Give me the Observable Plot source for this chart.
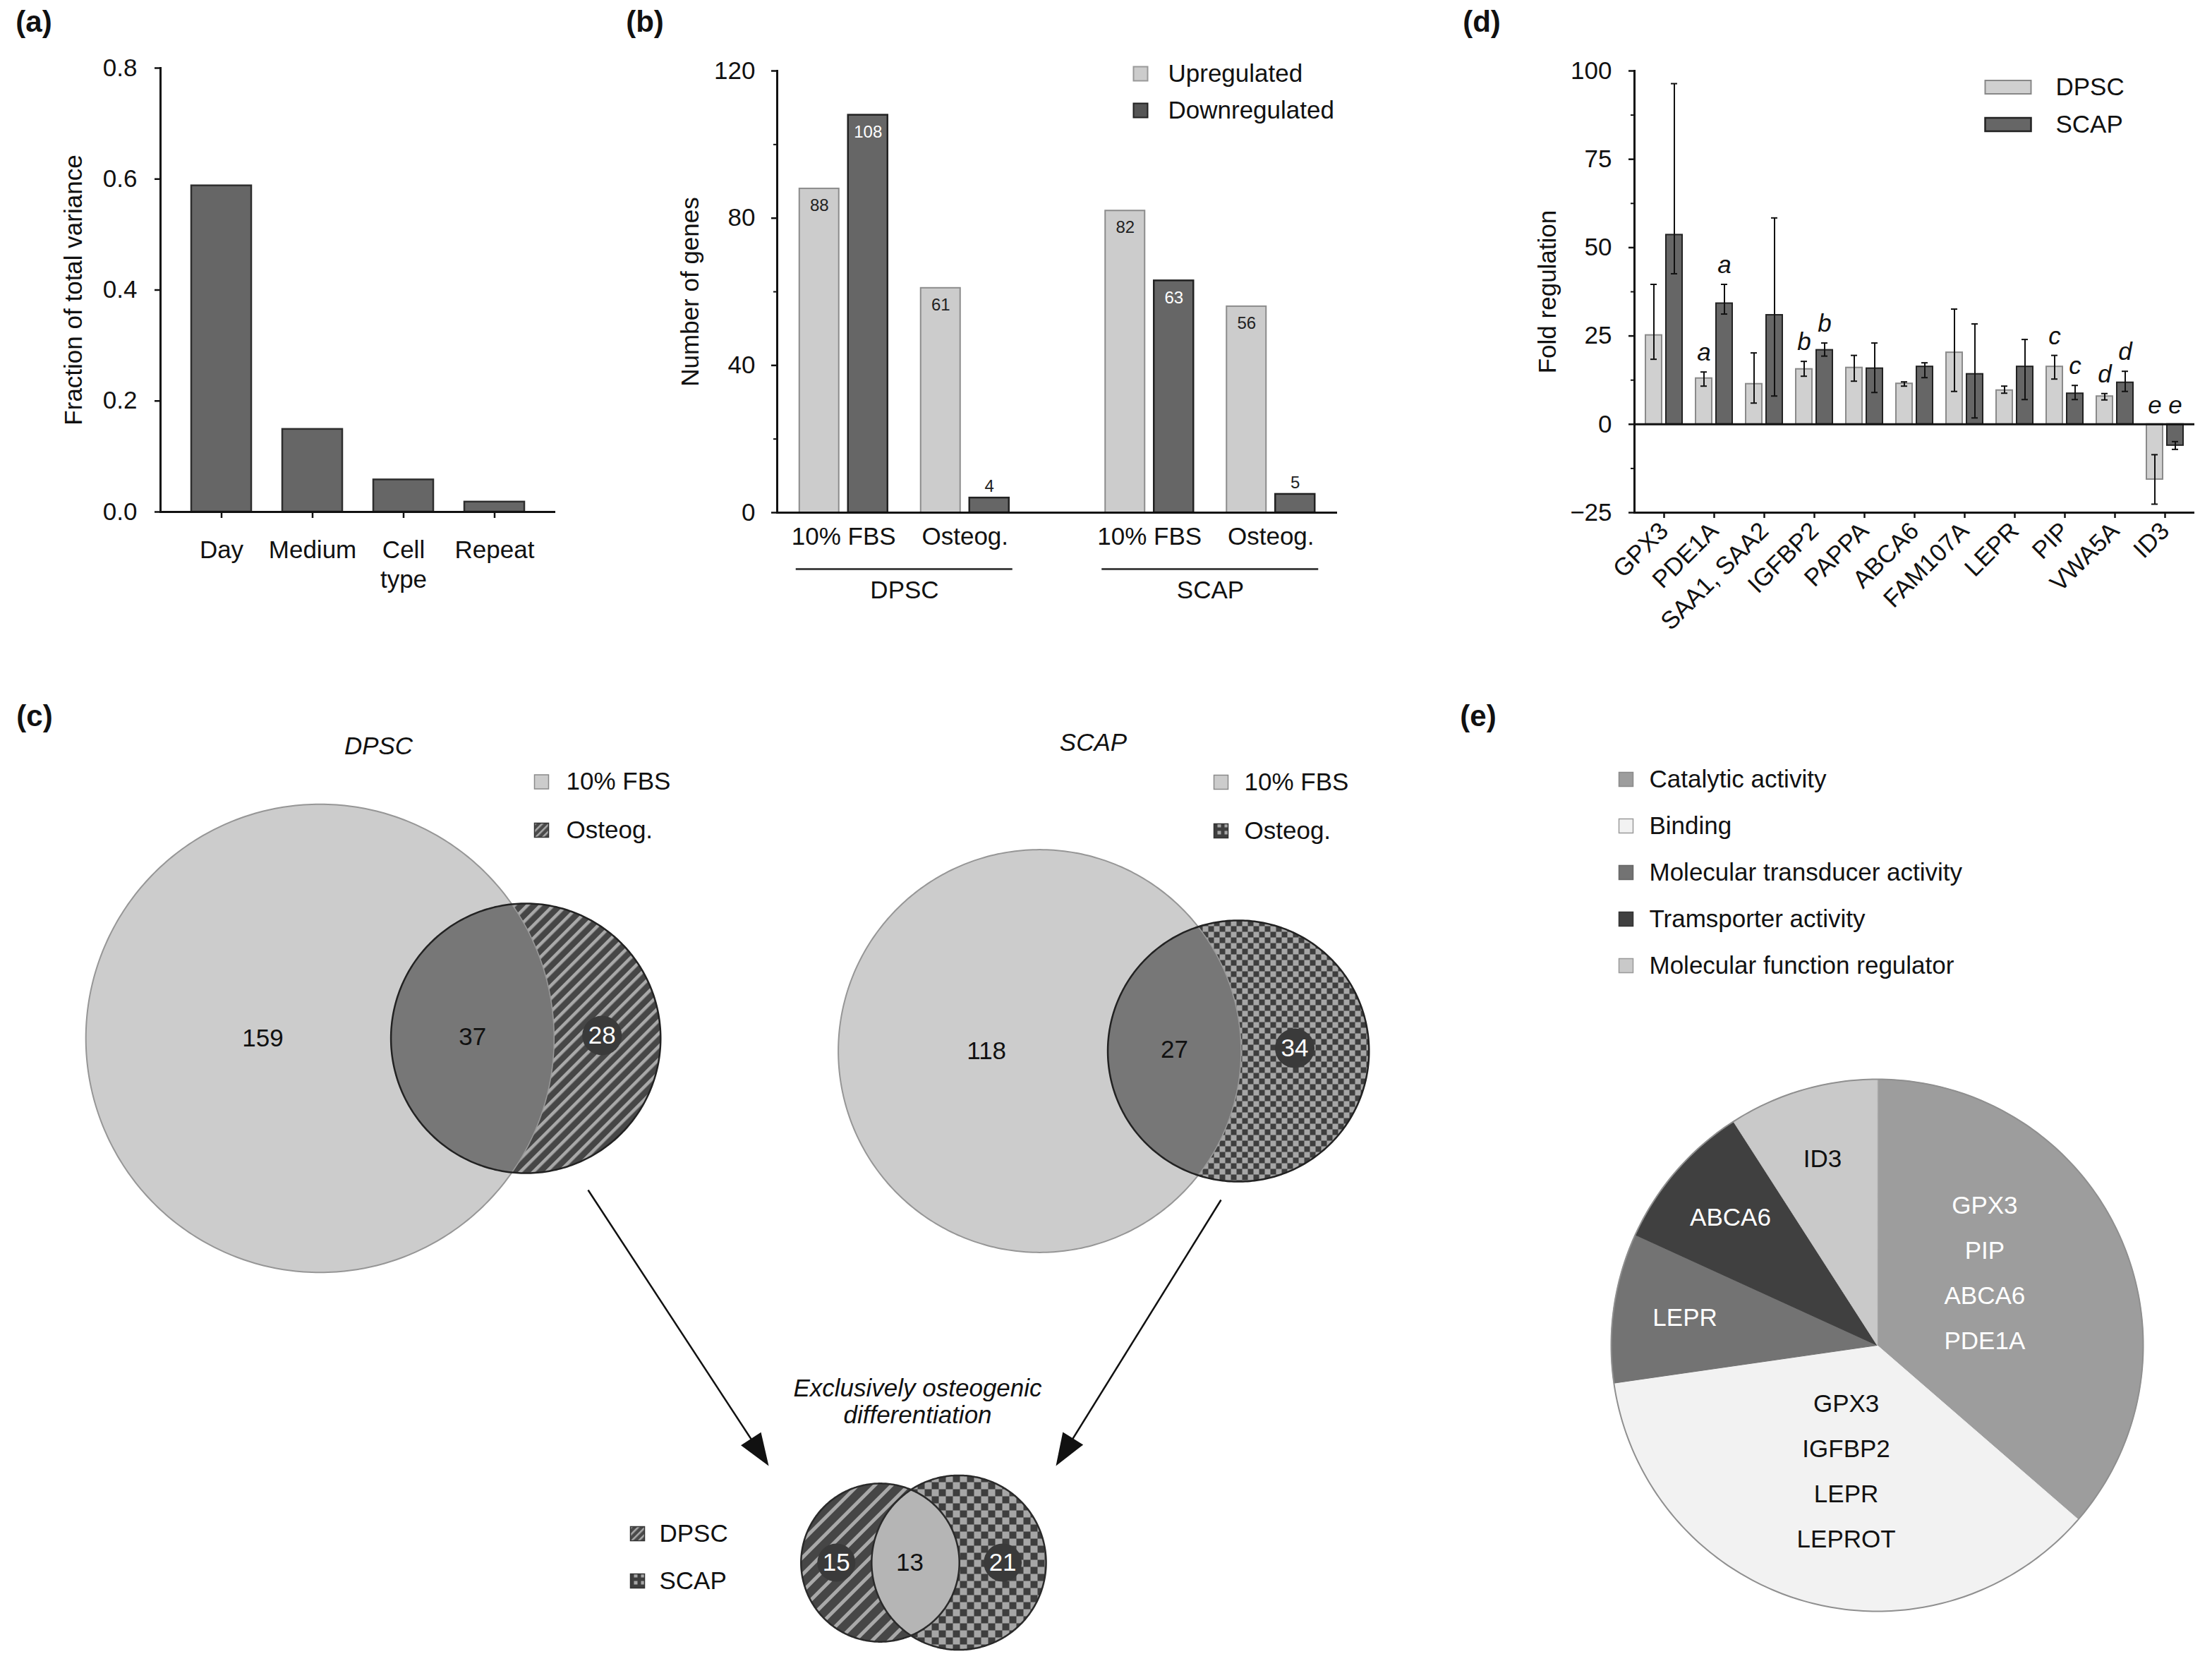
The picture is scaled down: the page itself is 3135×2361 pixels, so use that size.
<!DOCTYPE html>
<html>
<head>
<meta charset="utf-8">
<script src="https://cdn.jsdelivr.net/npm/d3@7"></script>
<script src="https://cdn.jsdelivr.net/npm/@observablehq/plot@0.6"></script>
<style>
  html, body { margin: 0; padding: 0; background: #fff; }
  #page { position: relative; width: 3135px; height: 2361px; background: #fff; overflow: hidden;
          font-family: "Liberation Sans", Arial, Helvetica, sans-serif; color: #111; }
  .plabel { position: absolute; font: bold 42px "Liberation Sans", Arial, Helvetica, sans-serif; color: #111;
            transform: translate(-50%, -50%); white-space: nowrap; line-height: 1; }
</style>
</head>
<body>
<div id="page">
  <svg width="0" height="0" style="position:absolute;left:0;top:0">
    <defs>
      <pattern id="hatchL" patternUnits="userSpaceOnUse" width="13" height="13" patternTransform="rotate(45)">
        <rect width="13" height="13" fill="#464646"/>
        <rect width="4.5" height="13" fill="#a9a9a9"/>
      </pattern>
      <pattern id="hatchS" patternUnits="userSpaceOnUse" width="17" height="17" patternTransform="rotate(45)">
        <rect width="17" height="17" fill="#464646"/>
        <rect width="5" height="17" fill="#a9a9a9"/>
      </pattern>
      <pattern id="hatchXS" patternUnits="userSpaceOnUse" width="7" height="7" patternTransform="rotate(45)">
        <rect width="7" height="7" fill="#4a4a4a"/>
        <rect width="2.5" height="7" fill="#a9a9a9"/>
      </pattern>
      <pattern id="checkL" patternUnits="userSpaceOnUse" width="16" height="16">
        <rect width="16" height="16" fill="#a6a6a6"/>
        <rect width="8" height="8" fill="#3e3e3e"/>
        <rect x="8" y="8" width="8" height="8" fill="#3e3e3e"/>
      </pattern>
      <pattern id="checkS" patternUnits="userSpaceOnUse" width="20" height="20">
        <rect width="20" height="20" fill="#a6a6a6"/>
        <rect width="10" height="10" fill="#3e3e3e"/>
        <rect x="10" y="10" width="10" height="10" fill="#3e3e3e"/>
      </pattern>
      <pattern id="checkXS" patternUnits="userSpaceOnUse" width="10" height="10">
        <rect width="10" height="10" fill="#3e3e3e"/>
        <rect x="5" width="5" height="5" fill="#a6a6a6"/>
      </pattern>
    </defs>
  </svg>
</div>
<script>
// ======================= DATA =======================
// (a) variance components
const varianceFactors = ["Day", "Medium", "Cell\ntype", "Repeat"];
const varianceFractions = [0.588, 0.149, 0.058, 0.018];

// (b) differentially expressed genes
const cellTypes = ["DPSC", "SCAP"];
const media = ["10% FBS", "Osteog."];
const upregulated = [88, 61, 82, 56];     // DPSC 10% FBS, DPSC Osteog., SCAP 10% FBS, SCAP Osteog.
const downregulated = [108, 4, 63, 5];
const directionLabels = ["Upregulated", "Downregulated"];

// (d) fold regulation (qPCR)
const genes = ["GPX3", "PDE1A", "SAA1, SAA2", "IGFBP2", "PAPPA", "ABCA6", "FAM107A", "LEPR", "PIP", "VWA5A", "ID3"];
const dpscFold = [25.2, 13.0, 11.4, 15.6, 16.0, 11.5, 20.3, 9.6, 16.3, 7.9, -15.6];
const dpscLow  = [18.4, 10.8, 6.0, 13.6, 12.2, 10.8, 9.3, 8.8, 12.8, 6.9, -22.6];
const dpscHigh = [39.6, 14.8, 20.2, 17.8, 19.5, 12.0, 32.6, 10.8, 19.5, 8.7, -8.6];
const scapFold = [53.6, 34.2, 30.9, 21.0, 15.8, 16.3, 14.2, 16.3, 8.7, 11.8, -6.0];
const scapLow  = [42.6, 31.2, 8.0, 19.3, 9.0, 13.2, 1.8, 7.0, 7.0, 9.3, -7.1];
const scapHigh = [96.4, 39.6, 58.4, 23.0, 23.0, 17.4, 28.4, 24.0, 11.0, 15.0, -4.9];
const dpscLetters = ["", "a", "", "b", "", "", "", "", "c", "d", "e"];
const scapLetters = ["", "a", "", "b", "", "", "", "", "c", "d", "e"];
const foldSeries = ["DPSC", "SCAP"];

// (c) Venn counts: [only first set, both, only second set]
const vennSets = ["10% FBS", "Osteog."];
const dpscCounts = [159, 37, 28];
const scapCounts = [118, 27, 34];
const exclusiveSets = ["DPSC", "SCAP"];
const exclusiveCounts = [15, 13, 21];

// (e) molecular function categories
const functionCategories = ["Catalytic activity", "Binding", "Molecular transducer activity", "Tramsporter activity", "Molecular function regulator"];
const functionCounts = [4, 4, 1, 1, 1];
const functionGenes = [["GPX3", "PIP", "ABCA6", "PDE1A"], ["GPX3", "IGFBP2", "LEPR", "LEPROT"], ["LEPR"], ["ABCA6"], ["ID3"]];

// ======================= HELPERS =======================
const FONT = '"Liberation Sans", Arial, Helvetica, sans-serif';
const INK = "#111";
const STYLE = {fontFamily: FONT, fontSize: "35px", color: INK, background: "transparent", overflow: "visible"};
const page = document.getElementById("page");
function mount(svg, left, top) {
  svg.style.position = "absolute";
  svg.style.left = left + "px";
  svg.style.top = top + "px";
  svg.style.maxWidth = "none";
  page.appendChild(svg);
}
function panelLabel(text, x, y) {
  const div = document.createElement("div");
  div.className = "plabel";
  div.textContent = text;
  div.style.left = x + "px";
  div.style.top = y + "px";
  page.appendChild(div);
}
function rectSymbol(w, h) {
  return {draw(ctx) { ctx.moveTo(-w / 2, -h / 2); ctx.lineTo(w / 2, -h / 2); ctx.lineTo(w / 2, h / 2); ctx.lineTo(-w / 2, h / 2); ctx.closePath(); }};
}
const arrowHead = {draw(ctx) { ctx.moveTo(0, 0); ctx.lineTo(17, 46); ctx.lineTo(-17, 46); ctx.closePath(); }};

// ======================= (a) =======================
const aRows = varianceFactors.map((f, i) => ({factor: f, value: varianceFractions[i]}));
mount(Plot.plot({
  width: 880, height: 880, marginLeft: 227, marginRight: 93, marginTop: 96, marginBottom: 155,
  style: STYLE,
  x: {domain: varianceFactors, paddingInner: 0.343, paddingOuter: 0.336, axis: null},
  y: {domain: [0, 0.8], axis: null},
  marks: [
    Plot.barY(aRows, {x: "factor", y: "value", fill: "#666666", stroke: "#2e2e2e", strokeWidth: 2.5}),
    Plot.ruleY([0], {stroke: INK, strokeWidth: 3}),
    Plot.frame({anchor: "left", stroke: INK, strokeWidth: 3}),
    Plot.axisY({ticks: [0, 0.2, 0.4, 0.6, 0.8], tickFormat: d3.format(".1f"), tickSize: 8, tickPadding: 25, strokeWidth: 2.5, label: null}),
    Plot.axisX({tickSize: 9, tickPadding: 27, strokeWidth: 2.5, lineHeight: 1.2, label: null}),
    Plot.text(["Fraction of total variance"], {frameAnchor: "left", dx: -123, rotate: -90, textAnchor: "middle", lineAnchor: "middle"})
  ]
}), 0, 0);

// ======================= (b) =======================
const bRows = [];
cellTypes.forEach((cell, ci) => media.forEach((medium, mi) => {
  const k = ci * media.length + mi;
  bRows.push({cell, medium, key: `${cell}|${medium}`, up: upregulated[k], down: downregulated[k]});
}));
const B_W = 1100, B_H = 900, B_ML = 201, B_MR = 105, B_MT = 100, B_MB = 174;
const B_PAD_IN = 0.2, B_PAD_OUT = 0.4015;
const bStep = (B_W - B_ML - B_MR) / (bRows.length - B_PAD_IN + 2 * B_PAD_OUT);
const bBand = bStep * (1 - B_PAD_IN);
const CELL_SHIFT = 44.75, PAIR_SHIFT = 34.5, B_BAR_W = 56;
const bInset = (bBand - B_BAR_W) / 2;
const cellDx = cell => cell === cellTypes[0] ? -CELL_SHIFT : CELL_SHIFT;

const bMarks = [];
for (const cell of cellTypes) {
  const rows = bRows.filter(d => d.cell === cell);
  const cdx = cellDx(cell);
  const upDx = cdx - PAIR_SHIFT, downDx = cdx + PAIR_SHIFT;
  bMarks.push(
    Plot.barY(rows, {x: "key", y: "up", dx: upDx, insetLeft: bInset, insetRight: bInset, fill: "#cccccc", stroke: "#8c8c8c", strokeWidth: 2}),
    Plot.barY(rows, {x: "key", y: "down", dx: downDx, insetLeft: bInset, insetRight: bInset, fill: "#666666", stroke: "#222", strokeWidth: 2.5}),
    Plot.text(rows.filter(d => d.up >= 10), {x: "key", y: "up", text: d => String(d.up), dx: upDx, dy: 24, fontSize: 24, fill: "#222"}),
    Plot.text(rows.filter(d => d.up < 10), {x: "key", y: "up", text: d => String(d.up), dx: upDx, dy: -16, fontSize: 24, fill: "#222"}),
    Plot.text(rows.filter(d => d.down >= 10), {x: "key", y: "down", text: d => String(d.down), dx: downDx, dy: 24, fontSize: 24, fill: "#fff"}),
    Plot.text(rows.filter(d => d.down < 10), {x: "key", y: "down", text: d => String(d.down), dx: downDx, dy: -16, fontSize: 24, fill: "#222"}),
    Plot.text(rows, {x: "key", text: "medium", frameAnchor: "bottom", lineAnchor: "middle", dx: cdx, dy: 34}),
    Plot.ruleY([rows], {x1: r => r[0].key, x2: r => r[r.length - 1].key, y: () => 0, dx: cdx, dy: 80,
      insetLeft: bInset - PAIR_SHIFT - 5, insetRight: bInset - PAIR_SHIFT - 5, stroke: "#444", strokeWidth: 3}),
    Plot.text([rows[0]], {x: "key", text: "cell", frameAnchor: "bottom", lineAnchor: "middle", dx: cdx + bStep / 2, dy: 110})
  );
}
mount(Plot.plot({
  width: B_W, height: B_H, marginLeft: B_ML, marginRight: B_MR, marginTop: B_MT, marginBottom: B_MB,
  style: STYLE,
  x: {domain: bRows.map(d => d.key), paddingInner: B_PAD_IN, paddingOuter: B_PAD_OUT, axis: null},
  y: {domain: [0, 120], axis: null, label: null},
  marks: [
    ...bMarks,
    Plot.ruleY([0], {stroke: INK, strokeWidth: 3}),
    Plot.frame({anchor: "left", stroke: INK, strokeWidth: 3}),
    Plot.axisY({ticks: [0, 40, 80, 120], tickSize: 8, tickPadding: 23, strokeWidth: 2.5, label: null}),
    Plot.axisY({ticks: [20, 60, 100], tickSize: 5, tickFormat: () => "", strokeWidth: 2, label: null}),
    Plot.text(["Number of genes"], {frameAnchor: "left", dx: -123, rotate: -90, textAnchor: "middle", lineAnchor: "middle"}),
    Plot.dot([directionLabels[0]], {frameAnchor: "top-right", dx: -279, dy: 4, symbol: rectSymbol(20, 20), fill: "#cccccc", stroke: "#999", strokeWidth: 2}),
    Plot.dot([directionLabels[1]], {frameAnchor: "top-right", dx: -279, dy: 56, symbol: rectSymbol(20, 20), fill: "#555", stroke: "#222", strokeWidth: 2}),
    Plot.text([directionLabels[0]], {frameAnchor: "top-right", dx: -240, dy: 4, textAnchor: "start", lineAnchor: "middle"}),
    Plot.text([directionLabels[1]], {frameAnchor: "top-right", dx: -240, dy: 56, textAnchor: "start", lineAnchor: "middle"})
  ]
}), 900, 0);

// ======================= (d) =======================
const dRows = genes.map((g, i) => ({gene: g,
  dpsc: dpscFold[i], dLo: dpscLow[i], dHi: dpscHigh[i], dLet: dpscLetters[i],
  scap: scapFold[i], sLo: scapLow[i], sHi: scapHigh[i], sLet: scapLetters[i]}));
const D_W = 1100, D_H = 960, D_ML = 281, D_MR = 25, D_MT = 100, D_MB = 234;
const D_PAD_IN = 0.27, D_PAD_OUT = 0.21;
const dStep = (D_W - D_ML - D_MR) / (genes.length - D_PAD_IN + 2 * D_PAD_OUT);
const dBand = dStep * (1 - D_PAD_IN);
const D_BAR_W = 23, D_SHIFT = 14.5, CAP_W = 9;
const dInset = (dBand - D_BAR_W) / 2, capInset = (dBand - CAP_W) / 2;
const seriesMarks = (val, lo, hi, let_, dx, fill, stroke) => [
  Plot.barY(dRows, {x: "gene", y: val, dx, insetLeft: dInset, insetRight: dInset, fill, stroke, strokeWidth: 2}),
  Plot.ruleX(dRows, {x: "gene", y1: lo, y2: hi, dx, stroke: INK, strokeWidth: 2}),
  Plot.tickY(dRows, {x: "gene", y: lo, dx, inset: capInset, stroke: INK, strokeWidth: 2}),
  Plot.tickY(dRows, {x: "gene", y: hi, dx, inset: capInset, stroke: INK, strokeWidth: 2}),
  Plot.text(dRows.filter(d => d[let_]), {x: "gene", y: d => Math.max(d[hi], 0), text: let_, dx, dy: -27, fontStyle: "italic"})
];
mount(Plot.plot({
  width: D_W, height: D_H, marginLeft: D_ML, marginRight: D_MR, marginTop: D_MT, marginBottom: D_MB,
  style: STYLE,
  x: {domain: genes, paddingInner: D_PAD_IN, paddingOuter: D_PAD_OUT, axis: null},
  y: {domain: [-25, 100], axis: null, label: null},
  marks: [
    ...seriesMarks("dpsc", "dLo", "dHi", "dLet", -D_SHIFT, "#d0d0d0", "#8a8a8a"),
    ...seriesMarks("scap", "sLo", "sHi", "sLet", D_SHIFT, "#666666", "#222"),
    Plot.ruleY([0], {stroke: INK, strokeWidth: 3}),
    Plot.ruleY([-25], {stroke: INK, strokeWidth: 3}),
    Plot.frame({anchor: "left", stroke: INK, strokeWidth: 3}),
    Plot.axisY({ticks: [-25, 0, 25, 50, 75, 100], tickSize: 8, tickPadding: 24, strokeWidth: 2.5, label: null}),
    Plot.axisY({ticks: [-12.5, 12.5, 37.5, 62.5, 87.5], tickSize: 5, tickFormat: () => "", strokeWidth: 2, label: null}),
    Plot.axisX({tickSize: 8, tickPadding: 12, tickRotate: -45, textAnchor: "end", lineAnchor: "middle", strokeWidth: 2.5, label: null}),
    Plot.text(["Fold regulation"], {frameAnchor: "left", dx: -123, rotate: -90, textAnchor: "middle", lineAnchor: "middle"}),
    Plot.dot([foldSeries[0]], {frameAnchor: "top-right", dx: -264.5, dy: 23, symbol: rectSymbol(65, 19), fill: "#d0d0d0", stroke: "#888", strokeWidth: 2}),
    Plot.dot([foldSeries[1]], {frameAnchor: "top-right", dx: -264.5, dy: 76, symbol: rectSymbol(65, 19), fill: "#666666", stroke: "#222", strokeWidth: 2.5}),
    Plot.text([foldSeries[0]], {frameAnchor: "top-right", dx: -197, dy: 23, textAnchor: "start", lineAnchor: "middle"}),
    Plot.text([foldSeries[1]], {frameAnchor: "top-right", dx: -197, dy: 76, textAnchor: "start", lineAnchor: "middle"})
  ]
}), 2035, 0);

// ======================= (c) + (e) geometry =======================
function circlePts(cx, cy, r, n = 360) {
  return d3.range(n).map(i => { const t = 2 * Math.PI * i / n; return {x: cx + r * Math.cos(t), y: cy + r * Math.sin(t)}; });
}
function lensArea(r1, r2, d) {
  if (d >= r1 + r2) return 0;
  if (d <= Math.abs(r1 - r2)) return Math.PI * Math.min(r1, r2) ** 2;
  const x1 = (d * d + r1 * r1 - r2 * r2) / (2 * d * r1), x2 = (d * d + r2 * r2 - r1 * r1) / (2 * d * r2);
  return r1 * r1 * Math.acos(x1) + r2 * r2 * Math.acos(x2)
    - 0.5 * Math.sqrt((-d + r1 + r2) * (d + r1 - r2) * (d - r1 + r2) * (d + r1 + r2));
}
function distanceFor(r1, r2, area) {
  let lo = Math.abs(r1 - r2), hi = r1 + r2;
  for (let i = 0; i < 80; i++) { const m = (lo + hi) / 2; if (lensArea(r1, r2, m) > area) lo = m; else hi = m; }
  return (lo + hi) / 2;
}
function lensPts(c1, r1, c2, r2, n = 160) {
  const dx = c2[0] - c1[0], dy = c2[1] - c1[1], d = Math.hypot(dx, dy), phi = Math.atan2(dy, dx);
  const a = (d * d + r1 * r1 - r2 * r2) / (2 * d);
  const alpha = Math.acos(Math.max(-1, Math.min(1, a / r1)));
  const beta = Math.acos(Math.max(-1, Math.min(1, (d - a) / r2)));
  const pts = [];
  for (let i = 0; i <= n; i++) { const t = phi - alpha + 2 * alpha * i / n; pts.push({x: c1[0] + r1 * Math.cos(t), y: c1[1] + r1 * Math.sin(t)}); }
  for (let i = 0; i <= n; i++) { const t = phi + Math.PI - beta + 2 * beta * i / n; pts.push({x: c2[0] + r2 * Math.cos(t), y: c2[1] + r2 * Math.sin(t)}); }
  return pts;
}
// area-proportional two-set Venn: radius = k * sqrt(set size), overlap area = k^2 * pi * shared count
function venn(counts, k, c1) {
  const rA = k * Math.sqrt(counts[0] + counts[1]), rB = k * Math.sqrt(counts[1] + counts[2]);
  const d = distanceFor(rA, rB, Math.PI * k * k * counts[1]);
  const c2 = [c1[0] + d, c1[1]];
  return {c1, rA, c2, rB};
}
function vennLabelPos(v, fA, fB) {
  const aL = v.c1[0] - v.rA, aR = v.c1[0] + v.rA, bL = v.c2[0] - v.rB, bR = v.c2[0] + v.rB;
  return [aL + fA * (bL - aL), (bL + aR) / 2, aR + fB * (bR - aR)];
}
const K_MAIN = 23.7, K_EXCL = 21.2;
const vD = venn(dpscCounts, K_MAIN, [453, 1471]);
const vS = venn(scapCounts, K_MAIN, [1473, 1489]);
const vE = venn(exclusiveCounts, K_EXCL, [1247, 2214]);

function mainVennMarks(v, counts, osteoFill, fA, fB) {
  const xs = vennLabelPos(v, fA, fB), y = v.c1[1];
  return [
    Plot.line(circlePts(v.c1[0], v.c1[1], v.rA), {x: "x", y: "y", curve: "linear-closed", fill: "#cccccc", stroke: "#969696", strokeWidth: 2}),
    Plot.line(circlePts(v.c2[0], v.c2[1], v.rB), {x: "x", y: "y", curve: "linear-closed", fill: osteoFill, stroke: "none"}),
    Plot.line(lensPts(v.c1, v.rA, v.c2, v.rB), {x: "x", y: "y", curve: "linear-closed", fill: "#777777", stroke: "#9a9a9a", strokeWidth: 1.5}),
    Plot.line(circlePts(v.c2[0], v.c2[1], v.rB), {x: "x", y: "y", curve: "linear-closed", fill: "none", stroke: "#222", strokeWidth: 2.5}),
    Plot.dot([counts[2]], {x: () => xs[2], y: () => y - 4, r: 28, fill: "#3a3a3a"}),
    Plot.text([counts[0]], {x: () => xs[0], y: () => y, text: d => String(d), fill: INK}),
    Plot.text([counts[1]], {x: () => xs[1], y: () => y - 2, text: d => String(d), fill: INK}),
    Plot.text([counts[2]], {x: () => xs[2], y: () => y - 4, text: d => String(d), fill: "#fff"})
  ];
}
function legendMarks(labels, fills, strokes, x, y0, step, textDx) {
  const items = labels.map((label, i) => ({label, x, y: y0 + i * step, fill: fills[i], stroke: strokes[i]}));
  return [
    ...items.map(it => Plot.dot([it], {x: "x", y: "y", symbol: rectSymbol(20, 20), fill: it.fill, stroke: it.stroke, strokeWidth: 1.5})),
    Plot.text(items, {x: "x", y: "y", text: "label", dx: textDx, textAnchor: "start"})
  ];
}

const xsE = vennLabelPos(vE, 0.5, 0.5), yE = vE.c1[1];
const exclusiveMarks = [
  Plot.line(circlePts(vE.c1[0], vE.c1[1], vE.rA), {x: "x", y: "y", curve: "linear-closed", fill: "url(#hatchS)", stroke: "none"}),
  Plot.line(circlePts(vE.c2[0], vE.c2[1], vE.rB), {x: "x", y: "y", curve: "linear-closed", fill: "url(#checkS)", stroke: "none"}),
  Plot.line(lensPts(vE.c1, vE.rA, vE.c2, vE.rB), {x: "x", y: "y", curve: "linear-closed", fill: "#b5b5b5", stroke: "none"}),
  Plot.line(circlePts(vE.c1[0], vE.c1[1], vE.rA), {x: "x", y: "y", curve: "linear-closed", fill: "none", stroke: "#2a2a2a", strokeWidth: 2.5}),
  Plot.line(circlePts(vE.c2[0], vE.c2[1], vE.rB), {x: "x", y: "y", curve: "linear-closed", fill: "none", stroke: "#2a2a2a", strokeWidth: 2.5}),
  Plot.dot([exclusiveCounts[0], exclusiveCounts[2]], {x: (d, i) => i === 0 ? xsE[0] : xsE[2], y: () => yE, r: 27, fill: "#3a3a3a"}),
  Plot.text([exclusiveCounts[0], exclusiveCounts[2]], {x: (d, i) => i === 0 ? xsE[0] : xsE[2], y: () => yE, text: d => String(d), fill: "#fff"}),
  Plot.text([exclusiveCounts[1]], {x: () => xsE[1] - 8, y: () => yE, text: d => String(d), fill: INK})
];

// arrows from the two Venns to the exclusive comparison
const arrows = [
  {x1: 833, y1: 1686, x2: 1089, y2: 2077},
  {x1: 1730, y1: 1700, x2: 1496, y2: 2077}
].map(a => {
  const len = Math.hypot(a.x2 - a.x1, a.y2 - a.y1), ux = (a.x2 - a.x1) / len, uy = (a.y2 - a.y1) / len;
  return {...a, bx: a.x2 - ux * 30, by: a.y2 - uy * 30, angle: Math.atan2(ux, -uy) * 180 / Math.PI};
});

// pie
const PIE_C = [2660, 1906], PIE_R = 377;
const pieColors = ["#9d9d9d", "#f2f2f2", "#737373", "#404040", "#c9c9c9"];
const pieTextColors = ["#fff", INK, "#fff", "#fff", INK];
const pieArcs = d3.pie().sort(null).value(d => d)(functionCounts);
function slicePts(a) {
  const n = Math.max(8, Math.ceil((a.endAngle - a.startAngle) * 180 / Math.PI));
  const pts = [{x: PIE_C[0], y: PIE_C[1]}];
  for (let i = 0; i <= n; i++) {
    const t = a.startAngle + (a.endAngle - a.startAngle) * i / n;
    pts.push({x: PIE_C[0] + PIE_R * Math.sin(t), y: PIE_C[1] - PIE_R * Math.cos(t)});
  }
  return pts;
}
const pieLabels = pieArcs.map((a, i) => {
  const big = a.value > 1;
  const ang = (a.startAngle + a.endAngle) / 2 - (big ? 6 * Math.PI / 180 : 0), f = big ? 0.5 : 0.73;
  return {big, x: PIE_C[0] + f * PIE_R * Math.sin(ang), y: PIE_C[1] - f * PIE_R * Math.cos(ang), text: functionGenes[i].join("\n"), color: pieTextColors[i]};
});

mount(Plot.plot({
  width: 3135, height: 1401, marginLeft: 0, marginRight: 0, marginTop: 0, marginBottom: 0,
  style: STYLE,
  x: {domain: [0, 3135], range: [0, 3135], axis: null},
  y: {domain: [960, 2361], range: [0, 1401], axis: null},
  marks: [
    // (c) titles
    Plot.text([cellTypes[0]], {x: () => 536, y: () => 1057, fontStyle: "italic"}),
    Plot.text([cellTypes[1]], {x: () => 1549, y: () => 1052, fontStyle: "italic"}),
    Plot.text(["Exclusively osteogenic\ndifferentiation"], {x: () => 1300, y: () => 1985, fontStyle: "italic", lineHeight: 1.1}),
    // DPSC and SCAP Venns
    ...mainVennMarks(vD, dpscCounts, "url(#hatchL)", 0.58, 0.45),
    ...mainVennMarks(vS, scapCounts, "url(#checkL)", 0.55, 0.42),
    ...legendMarks(vennSets, ["#cccccc", "url(#hatchXS)"], ["#8a8a8a", "#333"], 767, 1107.5, 68.5, 35),
    ...legendMarks(vennSets, ["#cccccc", "url(#checkXS)"], ["#8a8a8a", "#333"], 1730, 1108, 69, 33),
    // arrows
    Plot.link(arrows, {x1: "x1", y1: "y1", x2: "bx", y2: "by", stroke: INK, strokeWidth: 2.5}),
    Plot.dot(arrows, {x: "x2", y: "y2", rotate: "angle", symbol: arrowHead, fill: INK, stroke: "none"}),
    // exclusive Venn
    ...exclusiveMarks,
    ...legendMarks(exclusiveSets, ["url(#hatchXS)", "url(#checkXS)"], ["#333", "#333"], 903, 2173, 67, 31),
    // (e) legend
    ...legendMarks(functionCategories, pieColors, ["#8a8a8a", "#9a9a9a", "#666", "#333", "#9a9a9a"], 2304, 1104, 66, 33),
    // (e) pie
    ...pieArcs.map((a, i) => Plot.line(slicePts(a), {x: "x", y: "y", curve: "linear-closed", fill: pieColors[i], stroke: pieColors[i], strokeWidth: 1})),
    Plot.line(circlePts(PIE_C[0], PIE_C[1], PIE_R), {x: "x", y: "y", curve: "linear-closed", fill: "none", stroke: "#8f8f8f", strokeWidth: 2}),
    Plot.text(pieLabels.filter(d => d.big), {x: "x", y: "y", text: "text", fill: "color", lineHeight: 1.83, dx: -10, dy: -15}),
    Plot.text(pieLabels.filter(d => !d.big), {x: "x", y: "y", text: "text", fill: "color"})
  ]
}), 0, 960);

// panel letters
panelLabel("(a)", 48, 31);
panelLabel("(b)", 914, 31);
panelLabel("(d)", 2100, 31);
panelLabel("(c)", 49, 1015);
panelLabel("(e)", 2095, 1015);
</script>
</body>
</html>
